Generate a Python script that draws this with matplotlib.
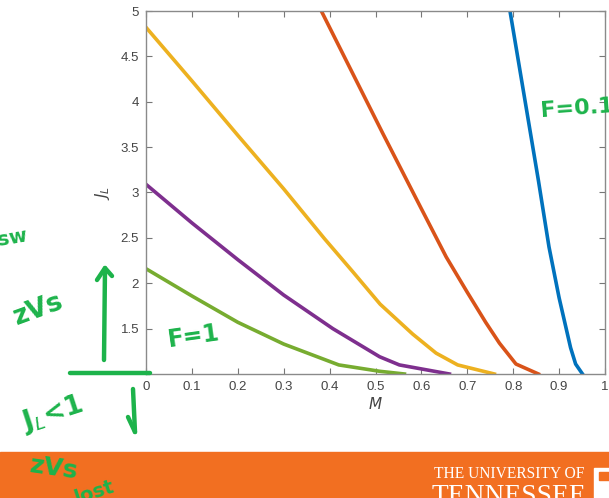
import matplotlib
matplotlib.use("Agg")
import matplotlib.pyplot as plt
from matplotlib.lines import Line2D
from matplotlib.patches import Rectangle

# curves, J_L vs M for several F values
m_f01 = [0.793, 0.855, 0.878, 0.900, 0.925, 0.936, 0.951]
j_f01 = [5.00, 3.13, 2.40, 1.84, 1.29, 1.11, 1.00]

m_red = [0.382, 0.516, 0.60, 0.654, 0.70, 0.74, 0.77, 0.806, 0.855]
j_red = [5.00, 3.65, 2.82, 2.29, 1.90, 1.57, 1.34, 1.11, 1.00]

m_yel = [0, 0.1, 0.2, 0.3, 0.389, 0.45, 0.51, 0.581, 0.632, 0.679, 0.759]
j_yel = [4.82, 4.23, 3.63, 3.04, 2.49, 2.13, 1.77, 1.44, 1.23, 1.10, 1.00]

m_pur = [0, 0.1, 0.2, 0.3, 0.407, 0.509, 0.552, 0.661]
j_pur = [3.09, 2.665, 2.26, 1.87, 1.50, 1.19, 1.10, 1.00]

m_f1 = [0, 0.1, 0.2, 0.3, 0.42, 0.509, 0.563]
j_f1 = [2.16, 1.86, 1.57, 1.33, 1.10, 1.03, 1.00]

xticks = [0, 0.1, 0.2, 0.3, 0.4, 0.5, 0.6, 0.7, 0.8, 0.9, 1]
xticklabels = ["0", "0.1", "0.2", "0.3", "0.4", "0.5", "0.6", "0.7", "0.8", "0.9", "1"]
yticks = [1.5, 2, 2.5, 3, 3.5, 4, 4.5, 5]
yticklabels = ["1.5", "2", "2.5", "3", "3.5", "4", "4.5", "5"]

W, H = 609, 498
fig = plt.figure(figsize=(W / 100, H / 100), dpi=100)


def fx(x):
    return x / W


def fy(y):
    return 1 - y / H


ax = fig.add_axes([fx(146), fy(374), fx(605) - fx(146), fy(11) - fy(374)])
lw = 2.6
ax.plot(m_f01, j_f01, color="#0072BD", lw=lw)
ax.plot(m_red, j_red, color="#D95319", lw=lw)
ax.plot(m_yel, j_yel, color="#EDB120", lw=lw)
ax.plot(m_pur, j_pur, color="#7E2F8E", lw=lw)
ax.plot(m_f1, j_f1, color="#77AC30", lw=lw)

ax.set_xlim(0, 1)
ax.set_ylim(1, 5)
ax.set_xticks(xticks)
ax.set_xticklabels(xticklabels)
ax.set_yticks(yticks)
ax.set_yticklabels(yticklabels)
ax.tick_params(direction="in", top=True, right=True, length=4, width=0.8,
               colors="#777777", labelcolor="#444444", labelsize=9.5, pad=5)
for s in ax.spines.values():
    s.set_color("#8a8a8a")
    s.set_linewidth(1.0)
for lab in ax.get_xticklabels() + ax.get_yticklabels():
    lab.set_family("Liberation Sans")
ax.set_xlabel("$M$", fontsize=11, color="#444444", labelpad=2)
ax.set_ylabel("$J_L$", fontsize=11, color="#444444", labelpad=6)

# orange footer band
orange = "#F26F21"
fig.add_artist(Rectangle((0, 0), 1, fy(452), transform=fig.transFigure,
                         color=orange, zorder=0))
fig.text(fx(434), fy(478), "THE UNIVERSITY OF", color="white", fontsize=11.2,
         family="Liberation Serif", ha="left", va="baseline")
fig.text(fx(432), fy(503), "TENNESSEE", color="white", fontsize=19.8,
         family="Liberation Serif", ha="left", va="baseline")
fig.add_artist(Rectangle((fx(594), 0), fx(609) - fx(594), fy(468),
                         transform=fig.transFigure, color="white", zorder=1))
fig.add_artist(Rectangle((fx(599), fy(480)), fx(609) - fx(599), fy(472) - fy(480),
                         transform=fig.transFigure, color=orange, zorder=2))

# green handwritten notes
g = "#1DB34B"
hand = dict(color=g, fontweight="bold", family="DejaVu Sans", ha="left",
            va="center")
fig.text(fx(540), fy(108), "F=0.1", fontsize=16, rotation=4, **hand)
fig.text(fx(166), fy(336), "F=1", fontsize=17, rotation=8, **hand)
fig.text(fx(10), fy(310), "zVs", fontsize=19, rotation=20, **hand)
fig.text(fx(18), fy(414), "J$_L$<1", fontsize=19, rotation=18, **hand)
fig.text(fx(28), fy(468), "zVs", fontsize=18, rotation=-8, **hand)
fig.text(fx(72), fy(492), "lost", fontsize=14, rotation=18, **hand)
fig.text(fx(-4), fy(238), "sw", fontsize=14, rotation=10, **hand)


def stroke(xs, ys, w=3.2):
    fig.add_artist(Line2D([fx(x) for x in xs], [fy(y) for y in ys],
                          transform=fig.transFigure, color=g, lw=w,
                          solid_capstyle="round", solid_joinstyle="round",
                          zorder=5))


stroke([104, 105], [360, 268])
stroke([97, 105, 112], [280, 268, 276])
stroke([70, 150], [373, 373])
stroke([133, 135], [389, 432])
stroke([128, 135], [417, 432])

fig.savefig("out.png", dpi=100)
